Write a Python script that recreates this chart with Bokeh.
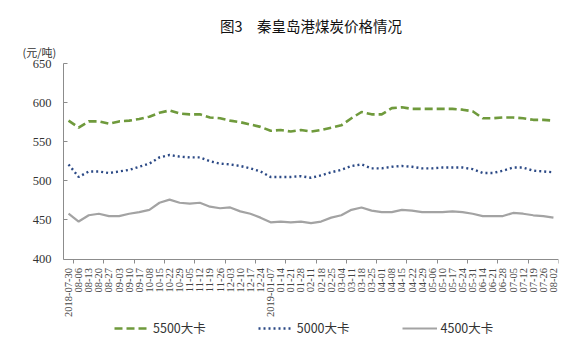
import math
from bokeh.plotting import figure
from bokeh.models import (FixedTicker, Legend, LegendItem, Title, Range1d,
                          ColumnDataSource, AllLabels)
from bokeh.embed import file_html
from bokeh.resources import INLINE

dates = ["2018-07-30", "08-06", "08-13", "08-20", "08-27", "09-03", "09-10", "09-17",
         "10-08", "10-15", "10-22", "10-29", "11-05", "11-12", "11-19", "11-26",
         "12-03", "12-10", "12-17", "12-24", "2019-01-07", "01-14", "01-21", "01-28",
         "02-11", "02-18", "02-25", "03-04", "03-11", "03-18", "03-25", "04-01",
         "04-08", "04-15", "04-22", "04-29", "05-06", "05-10", "05-17", "05-24",
         "05-31", "06-14", "06-21", "06-28", "07-05", "07-12", "07-19", "07-26", "08-02"]

coal_5500 = [577, 568, 576, 576, 573, 576, 577, 579, 582, 587, 590, 586, 585, 585, 581, 580,
             577, 575, 572, 569, 564, 565, 563, 565, 563, 565, 568, 571, 580, 588, 585, 585,
             593, 594, 592, 592, 592, 592, 592, 591, 589, 580, 580, 581, 581, 580, 578, 578, 577]

coal_5000 = [521, 505, 512, 512, 510, 512, 514, 518, 522, 530, 533, 531, 530, 530, 525, 522,
             521, 519, 516, 512, 505, 505, 505, 506, 504, 507, 511, 514, 519, 521, 516, 516,
             518, 519, 518, 516, 516, 517, 517, 517, 515, 510, 510, 513, 517, 517, 513, 512, 511]

coal_4500 = [458, 448, 456, 458, 455, 455, 458, 460, 463, 472, 476, 472, 471, 472, 467, 465,
             466, 461, 458, 453, 447, 448, 447, 448, 446, 448, 453, 456, 463, 466, 462, 460,
             460, 463, 462, 460, 460, 460, 461, 460, 458, 455, 455, 455, 459, 458, 456, 455, 453]

series_names = ["5500大卡", "5000大卡", "4500大卡"]
y_ticks = [400, 450, 500, 550, 600, 650]
y_min, y_max = 400, 650

# frame extends below the value axis so the legend can sit inside it
frame_h = 293
plot_h = 195.6
y_bottom = y_max - frame_h * (y_max - y_min) / plot_h

idx = list(range(len(dates)))
src = ColumnDataSource(dict(x=idx, a=coal_5500, b=coal_5000, c=coal_4500))

p = figure(frame_width=495, frame_height=frame_h, output_backend="svg", toolbar_location=None,
           title=None,
           x_range=Range1d(-0.5, len(dates) - 0.5), y_range=Range1d(y_bottom, y_max),
           min_border_left=63, min_border_right=10, min_border_top=63,
           min_border_bottom=0)
p.outline_line_color = None
p.background_fill_color = "white"
p.border_fill_color = "white"
p.xgrid.visible = False
p.ygrid.visible = False

axis_col = "#8c8c8c"

r1 = p.line("x", "a", source=src, line_color="#6f9a3c", line_width=2.6,
            line_dash="8 4")
r2 = p.line("x", "b", source=src, line_color="#2c4a86", line_width=2.4,
            line_dash="2 3")
r3 = p.line("x", "c", source=src, line_color="#a3a3a3", line_width=2.2)

# x axis, drawn at the 400 level
xa = p.xaxis[0]
xa.fixed_location = y_min
xa.ticker = FixedTicker(ticks=idx, minor_ticks=[k - 0.5 for k in range(1, len(dates) + 1, 3)])
xa.major_label_overrides = {i: d for i, d in enumerate(dates)}
xa.major_label_orientation = math.pi / 2
xa.major_label_policy = AllLabels()
xa.major_tick_line_color = None
xa.minor_tick_line_color = axis_col
xa.minor_tick_out = 4
xa.minor_tick_in = 0
xa.axis_line_color = axis_col
xa.major_label_text_font = "Liberation Serif"
xa.major_label_text_font_size = "10.5px"
xa.major_label_text_color = "#444444"
xa.major_label_standoff = 3

# y axis
ya = p.yaxis[0]
ya.bounds = (y_min, y_max)
ya.ticker = FixedTicker(ticks=y_ticks)
ya.major_tick_in = 4
ya.major_tick_out = 0
ya.minor_tick_line_color = None
ya.major_tick_line_color = axis_col
ya.axis_line_color = axis_col
ya.major_label_text_font = "Liberation Serif"
ya.major_label_text_font_size = "12.5px"
ya.major_label_text_color = "#333333"
ya.major_label_standoff = 12

legend = Legend(items=[LegendItem(label=series_names[0], renderers=[r1]),
                       LegendItem(label=series_names[1], renderers=[r2]),
                       LegendItem(label=series_names[2], renderers=[r3])],
                orientation="horizontal", location=(51, 19),
                border_line_color=None, background_fill_alpha=0,
                glyph_width=35, glyph_height=12, spacing=52, label_standoff=4,
                label_text_font="Noto Sans CJK SC", label_text_font_size="12.5px",
                label_text_color="#333333", padding=2, margin=0)
p.add_layout(legend, "center")

p.add_layout(Title(text="(元/吨)", align="left", offset=-41, standoff=8,
                   text_font="Noto Sans CJK SC", text_font_size="11px",
                   text_font_style="normal", text_color="#333333"), "above")
p.add_layout(Title(text="图3　秦皇岛港煤炭价格情况", align="center", standoff=4,
                   text_font="Noto Sans CJK SC", text_font_size="14.5px",
                   text_font_style="normal", text_color="#111111"), "above")

open("out.html", "w").write(file_html(p, INLINE))
